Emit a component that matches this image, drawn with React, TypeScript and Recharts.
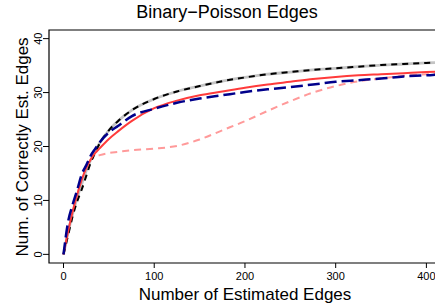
import React from 'react';
import { LineChart, Line, XAxis, YAxis, ReferenceArea } from 'recharts';

const xValues = [0, 5, 10, 15, 20, 25, 30, 35, 40, 50, 60, 75, 100, 125, 150, 175, 200, 225, 250, 275, 300, 325, 350, 375, 400, 415];
const graySolid = [0, 4.0, 7.5, 10.5, 13.0, 15.5, 17.5, 19.2, 20.7, 23.0, 24.7, 26.7, 28.8, 30.2, 31.2, 32.1, 32.8, 33.4, 33.8, 34.2, 34.5, 34.8, 35.1, 35.3, 35.5, 35.6];
const blackDashed = [0, 3.5, 7.0, 9.8, 12.0, 14.5, 17.0, 18.9, 20.6, 23.0, 24.7, 26.7, 28.8, 30.2, 31.2, 32.1, 32.8, 33.4, 33.8, 34.2, 34.5, 34.8, 35.1, 35.3, 35.5, 35.6];
const redSolid = [0, 4.2, 7.9, 11.0, 13.8, 16.0, 17.6, 18.8, 19.7, 21.4, 22.8, 24.7, 27.1, 28.5, 29.5, 30.2, 30.9, 31.5, 32.0, 32.5, 32.9, 33.2, 33.4, 33.6, 33.8, 33.9];
const blueDashed = [0, 6.0, 9.2, 11.9, 14.8, 16.5, 18.3, 19.6, 20.8, 22.6, 23.8, 25.6, 27.0, 28.1, 28.9, 29.5, 30.1, 30.6, 31.0, 31.5, 32.0, 32.3, 32.6, 33.0, 33.2, 33.4];
const pinkDashed = [0, 4.2, 7.9, 11.0, 13.8, 16.0, 17.6, 18.1, 18.4, 18.8, 19.0, 19.3, 19.6, 20.1, 21.3, 23.0, 24.7, 26.6, 28.4, 30.0, 31.2, 32.1, 32.6, 33.1, 33.4, 33.6];

const xTicks = [0, 100, 200, 300, 400];
const yTicks = [0, 10, 20, 30, 40];

const title = 'Binary\u2212Poisson Edges';
const xLabel = 'Number of Estimated Edges';
const yLabel = 'Num. of Correctly Est. Edges';

const data = xValues.map((x, i) => ({
  x,
  gray: graySolid[i],
  black: blackDashed[i],
  red: redSolid[i],
  blue: blueDashed[i],
  pink: pinkDashed[i],
}));

const FONT = '"Liberation Sans", Arial, Helvetica, sans-serif';

const YTick = (props: any) => {
  const { x, y, payload } = props;
  return (
    <text
      x={x}
      y={y}
      transform={`rotate(-90, ${x}, ${y})`}
      textAnchor="middle"
      fontSize={11}
      fontFamily={FONT}
      fill="#000"
    >
      {payload.value}
    </text>
  );
};

export default function App() {
  return (
    <div style={{ position: 'absolute', left: 0, top: 0, width: 435, height: 307, overflow: 'hidden', background: '#fff' }}>
      <LineChart width={460} height={307} data={data} margin={{ top: 30, right: 20, bottom: 14, left: 19 }}>
        <XAxis
          type="number"
          dataKey="x"
          domain={[-16, 415]}
          allowDataOverflow
          ticks={xTicks}
          axisLine={false}
          tickLine={{ stroke: '#000' }}
          tickSize={5}
          tickMargin={4}
          height={30}
          tick={{ fill: '#000', fontSize: 11, fontFamily: FONT }}
        />
        <YAxis
          type="number"
          domain={[-1.6, 41.6]}
          allowDataOverflow
          ticks={yTicks}
          axisLine={false}
          tickLine={{ stroke: '#000' }}
          tickSize={6}
          tickMargin={1}
          width={30}
          tick={<YTick />}
        />
        <ReferenceArea x1={-16} x2={415} y1={-1.6} y2={41.6} fill="none" stroke="#000" strokeWidth={1.2} ifOverflow="visible" />
        <Line type="monotone" dataKey="pink" stroke="#FF9A9A" strokeWidth={2} strokeDasharray="7 5" dot={false} isAnimationActive={false} />
        <Line type="monotone" dataKey="gray" stroke="#C4C4C4" strokeWidth={2.8} dot={false} isAnimationActive={false} />
        <Line type="monotone" dataKey="black" stroke="#000" strokeWidth={2} strokeDasharray="6 5" dot={false} isAnimationActive={false} />
        <Line type="monotone" dataKey="red" stroke="#FF3B3B" strokeWidth={2} dot={false} isAnimationActive={false} />
        <Line type="monotone" dataKey="blue" stroke="#00008B" strokeWidth={2.5} strokeDasharray="12 5" dot={false} isAnimationActive={false} />
      </LineChart>
      <svg width={435} height={307} style={{ position: 'absolute', left: 0, top: 0, pointerEvents: 'none' }}>
        <text x={227} y={17.5} textAnchor="middle" fontSize={18} fontFamily={FONT} fill="#000">{title}</text>
        <text x={245} y={300} textAnchor="middle" fontSize={17} fontFamily={FONT} fill="#000">{xLabel}</text>
        <text x={27.5} y={147} transform="rotate(-90, 27.5, 147)" textAnchor="middle" fontSize={17} fontFamily={FONT} fill="#000">{yLabel}</text>
      </svg>
    </div>
  );
}
